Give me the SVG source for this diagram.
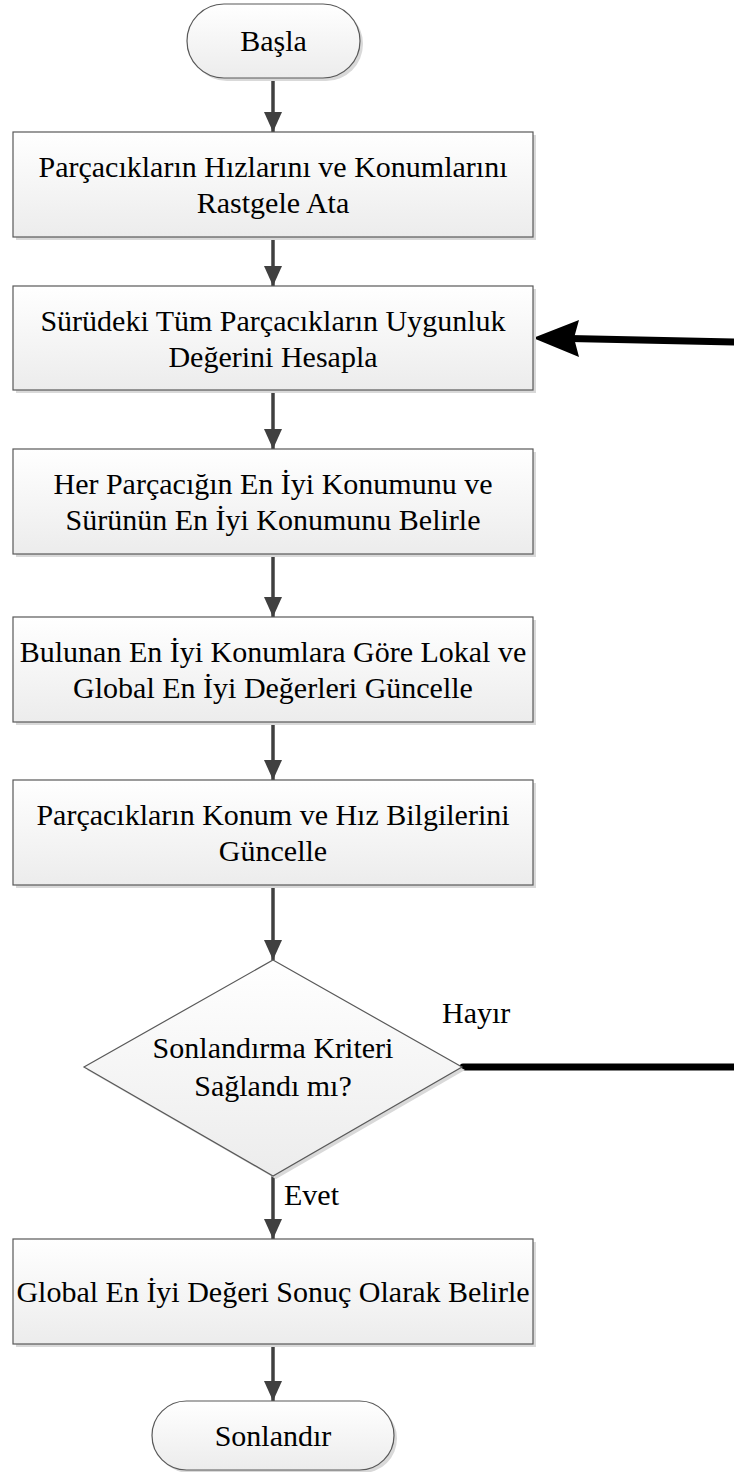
<svg xmlns="http://www.w3.org/2000/svg" width="734" height="1472" viewBox="0 0 734 1472">
<defs>
<linearGradient id="g" x1="0" y1="0" x2="0" y2="1">
<stop offset="0" stop-color="#ffffff"/>
<stop offset="1" stop-color="#ececec"/>
</linearGradient>
<marker id="ah" markerWidth="20" markerHeight="20" viewBox="0 0 20 20" refX="20" refY="10" orient="auto" markerUnits="userSpaceOnUse">
<path d="M0,1 L20,10 L0,19 Z" fill="#404040"/>
</marker>
</defs>
<style>
.shape{fill:url(#g);stroke:#595959;stroke-width:1.2}
.shadow{fill:#d9d9d9}
.t{font-family:"Liberation Serif","Times New Roman",serif;font-size:30px;fill:#000;text-anchor:middle}
.lbl{font-family:"Liberation Serif","Times New Roman",serif;font-size:30px;fill:#000}
.flow{stroke:#404040;stroke-width:3.5;fill:none;marker-end:url(#ah)}
.loop{stroke:#000;stroke-width:7;fill:none;stroke-linecap:round}
</style>
<rect width="734" height="1472" fill="#fff"/>
<g id="connectors">
<line class="flow" x1="273" y1="78" x2="273" y2="132"/>
<line class="flow" x1="273" y1="237" x2="273" y2="286"/>
<line class="flow" x1="273" y1="390" x2="273" y2="449"/>
<line class="flow" x1="273" y1="554" x2="273" y2="617"/>
<line class="flow" x1="273" y1="722" x2="273" y2="780"/>
<line class="flow" x1="273" y1="885" x2="273" y2="960"/>
<line class="flow" x1="273" y1="1176" x2="273" y2="1239"/>
<line class="flow" x1="273" y1="1344" x2="273" y2="1401"/>
<line class="loop" x1="463" y1="1067" x2="740" y2="1067"/>
<line class="loop" x1="740" y1="342" x2="570" y2="338.5" style="stroke-linecap:butt"/>
<path d="M533,338 L579,320 L574,338 L579,357 Z" fill="#000"/>
</g>
<g id="start">
<rect class="shadow" x="190" y="7" width="173" height="74" rx="37"/>
<rect class="shape" x="187" y="4" width="173" height="74" rx="37"/>
<text class="t" x="273.5" y="51">Başla</text>
</g>
<g id="box1">
<rect class="shadow" x="16" y="135" width="520" height="105"/>
<rect class="shape" x="13" y="132" width="520" height="105"/>
<text class="t" x="273" y="177">Parçacıkların Hızlarını ve Konumlarını</text>
<text class="t" x="273" y="213">Rastgele Ata</text>
</g>
<g id="box2">
<rect class="shadow" x="16" y="289" width="520" height="104"/>
<rect class="shape" x="13" y="286" width="520" height="104"/>
<text class="t" x="273" y="331">Sürüdeki Tüm Parçacıkların Uygunluk</text>
<text class="t" x="273" y="367">Değerini Hesapla</text>
</g>
<g id="box3">
<rect class="shadow" x="16" y="452" width="520" height="105"/>
<rect class="shape" x="13" y="449" width="520" height="105"/>
<text class="t" x="273" y="494">Her Parçacığın En İyi Konumunu ve</text>
<text class="t" x="273" y="530">Sürünün En İyi Konumunu Belirle</text>
</g>
<g id="box4">
<rect class="shadow" x="16" y="620" width="520" height="105"/>
<rect class="shape" x="13" y="617" width="520" height="105"/>
<text class="t" x="273" y="662">Bulunan En İyi Konumlara Göre Lokal ve</text>
<text class="t" x="273" y="698">Global En İyi Değerleri Güncelle</text>
</g>
<g id="box5">
<rect class="shadow" x="16" y="783" width="520" height="105"/>
<rect class="shape" x="13" y="780" width="520" height="105"/>
<text class="t" x="273" y="825">Parçacıkların Konum ve Hız Bilgilerini</text>
<text class="t" x="273" y="861">Güncelle</text>
</g>
<g id="decision">
<polygon class="shadow" points="276,963 465,1070 276,1179 87,1070"/>
<polygon class="shape" points="273,960 462,1067 273,1176 84,1067"/>
<text class="t" x="273" y="1058">Sonlandırma Kriteri</text>
<text class="t" x="273" y="1096">Sağlandı mı?</text>
</g>
<g id="box6">
<rect class="shadow" x="16" y="1242" width="520" height="105"/>
<rect class="shape" x="13" y="1239" width="520" height="105"/>
<text class="t" x="273" y="1302">Global En İyi Değeri Sonuç Olarak Belirle</text>
</g>
<g id="end">
<rect class="shadow" x="155" y="1404" width="242" height="69" rx="34.5"/>
<rect class="shape" x="152" y="1401" width="242" height="69" rx="34.5"/>
<text class="t" x="273" y="1446">Sonlandır</text>
</g>
<g id="labels">
<text class="lbl" x="442" y="1023">Hayır</text>
<text class="lbl" x="284" y="1205">Evet</text>
</g>
</svg>
